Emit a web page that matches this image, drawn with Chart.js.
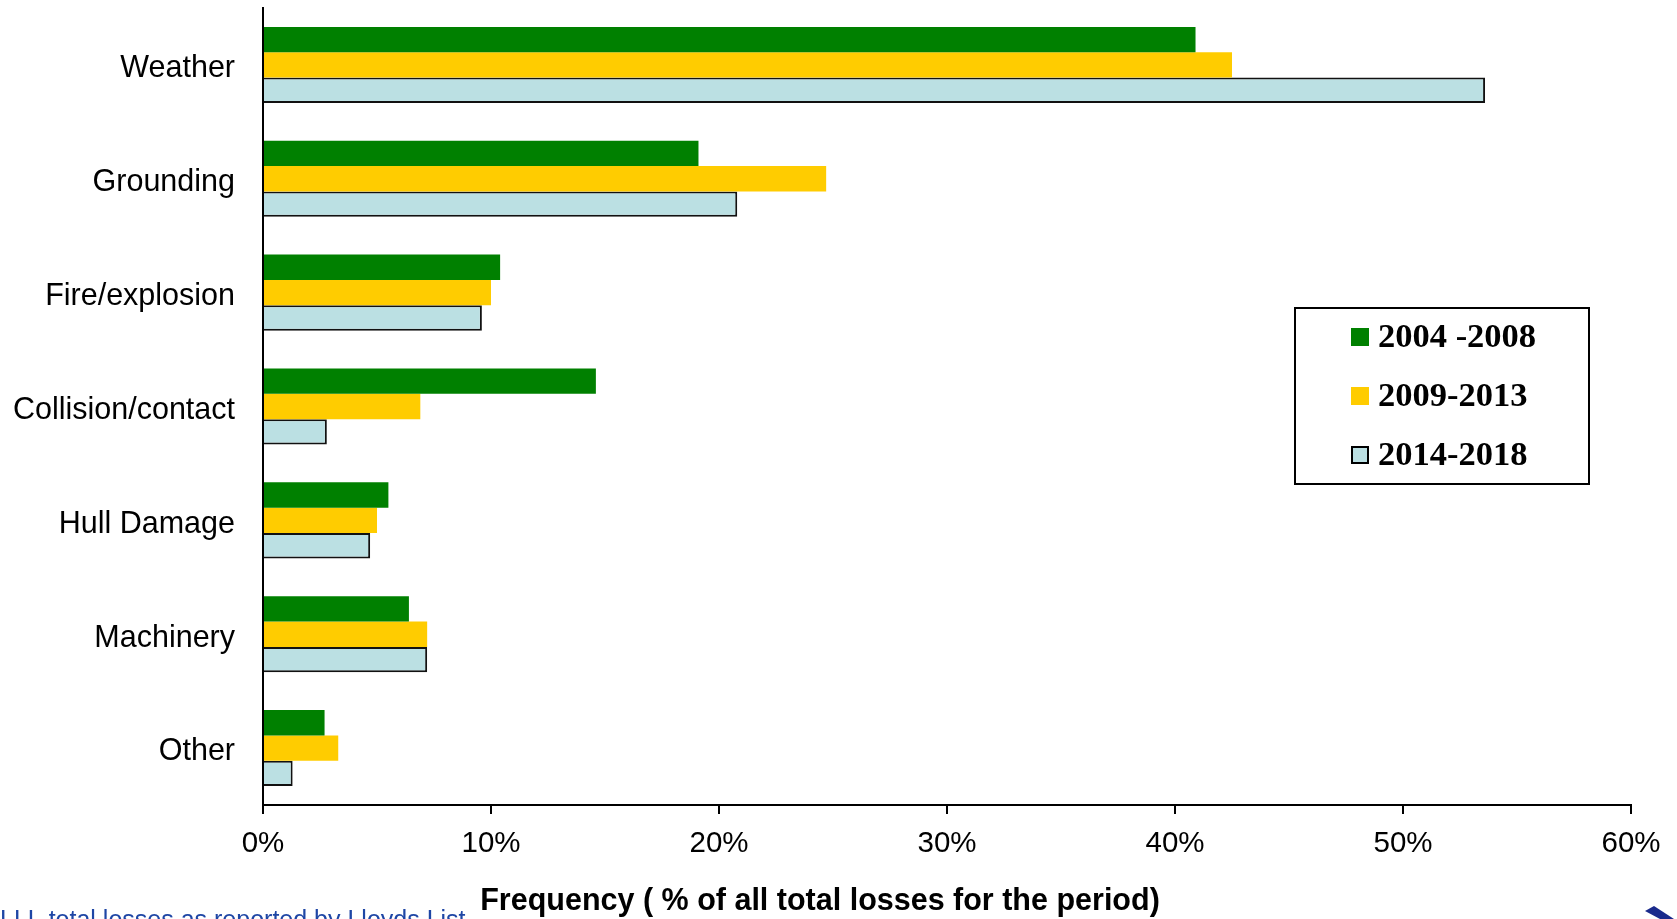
<!DOCTYPE html>
<html>
<head>
<meta charset="utf-8">
<script src="https://cdn.jsdelivr.net/npm/chart.js@4.4.1/dist/chart.umd.min.js"></script>
<style>
  html, body { margin: 0; padding: 0; background: #ffffff; overflow: hidden; }
  canvas { display: block; }
</style>
</head>
<body>
<canvas id="chart" width="1677" height="919"></canvas>
<script>
// Causes of total losses, share of all losses per period (%)
const categories = ['Weather', 'Grounding', 'Fire/explosion', 'Collision/contact', 'Hull Damage', 'Machinery', 'Other'];
const periodLabels = ['2004 -2008', '2009-2013', '2014-2018'];
const losses2004_2008 = [40.9, 19.1, 10.4, 14.6, 5.5, 6.4, 2.7];
const losses2009_2013 = [42.5, 24.7, 10.0, 6.9, 5.0, 7.2, 3.3];
const losses2014_2018 = [53.6, 20.8, 9.6, 2.8, 4.7, 7.2, 1.3];
const xTickLabels = ['0%', '10%', '20%', '30%', '40%', '50%', '60%'];
const axisTitle = 'Frequency ( % of all total losses for the period)';
const sourceNote = 'LLL total losses as reported by Lloyds List';

const GREEN = '#008000';
const YELLOW = '#FFCC00';
const LIGHTBLUE = '#BBE0E3';

// Boxed legend inside the plot, plus axis title, source note and corner mark
const extrasPlugin = {
  id: 'extras',
  afterDraw(chart) {
    const ctx = chart.ctx;
    ctx.save();

    // legend box
    const bx = 1295, by = 308, bw = 294, bh = 176;
    ctx.fillStyle = '#ffffff';
    ctx.fillRect(bx, by, bw, bh);
    ctx.strokeStyle = '#000000';
    ctx.lineWidth = 2;
    ctx.strokeRect(bx, by, bw, bh);
    chart.data.datasets.forEach((ds, i) => {
      const cy = 337 + i * 59;
      const mx = 1351, ms = 18;
      ctx.fillStyle = ds.backgroundColor;
      ctx.fillRect(mx, cy - ms / 2, ms, ms);
      if (ds.borderWidth) {
        ctx.strokeStyle = '#000000';
        ctx.lineWidth = 2;
        ctx.strokeRect(mx + 1, cy - ms / 2 + 1, ms - 2, ms - 2);
      }
      ctx.fillStyle = '#000000';
      ctx.font = 'bold 34.5px "Liberation Serif", "Times New Roman", serif';
      ctx.textAlign = 'left';
      ctx.textBaseline = 'middle';
      ctx.fillText(ds.label, 1378, cy + 1);
    });

    // x-axis title
    ctx.fillStyle = '#000000';
    ctx.font = 'bold 30.5px "Liberation Sans", Arial, sans-serif';
    ctx.textAlign = 'center';
    ctx.textBaseline = 'middle';
    ctx.fillText(axisTitle, 820, 902);

    // source note (runs off the lower edge)
    ctx.fillStyle = '#1e46a5';
    ctx.font = '25px "Liberation Sans", Arial, sans-serif';
    ctx.textAlign = 'left';
    ctx.textBaseline = 'alphabetic';
    ctx.fillText(sourceNote, 0, 928);

    // corner mark
    ctx.fillStyle = '#1a2a8c';
    ctx.beginPath();
    ctx.moveTo(1645, 911);
    ctx.lineTo(1654, 906);
    ctx.lineTo(1674, 919);
    ctx.lineTo(1660, 919);
    ctx.closePath();
    ctx.fill();

    ctx.restore();
  }
};

new Chart(document.getElementById('chart'), {
  type: 'bar',
  data: {
    labels: categories,
    datasets: [
      { label: periodLabels[0], data: losses2004_2008, backgroundColor: GREEN, borderWidth: 0 },
      { label: periodLabels[1], data: losses2009_2013, backgroundColor: YELLOW, borderWidth: 0 },
      { label: periodLabels[2], data: losses2014_2018, backgroundColor: LIGHTBLUE, borderColor: '#111111', borderWidth: 2, borderSkipped: 'start' }
    ]
  },
  options: {
    indexAxis: 'y',
    responsive: false,
    animation: false,
    devicePixelRatio: 1,
    layout: { padding: { top: 8, right: 46, left: 0, bottom: 0 } },
    datasets: { bar: { categoryPercentage: 0.668, barPercentage: 1.0 } },
    plugins: {
      legend: { display: false },
      tooltip: { enabled: false }
    },
    scales: {
      x: {
        min: 0,
        max: 60,
        ticks: {
          stepSize: 10,
          color: '#000000',
          padding: 12,
          font: { family: '"Liberation Sans", Arial, sans-serif', size: 29.5 },
          callback: (v) => xTickLabels[Math.round(v / 10)]
        },
        grid: { drawOnChartArea: false, drawTicks: true, tickLength: 9, color: '#000000', lineWidth: 2 },
        border: { display: true, color: '#000000', width: 2 },
        afterFit(scale) { scale.height = 114; }
      },
      y: {
        ticks: {
          color: '#000000',
          padding: 28,
          labelOffset: 4,
          font: { family: '"Liberation Sans", Arial, sans-serif', size: 30.5 }
        },
        grid: { display: false, drawTicks: false },
        border: { display: true, color: '#000000', width: 2 },
        afterFit(scale) {
          scale.width = 263;
          scale.paddingTop = 0;
          scale.paddingBottom = 0;
        }
      }
    }
  },
  plugins: [extrasPlugin]
});
</script>
</body>
</html>
